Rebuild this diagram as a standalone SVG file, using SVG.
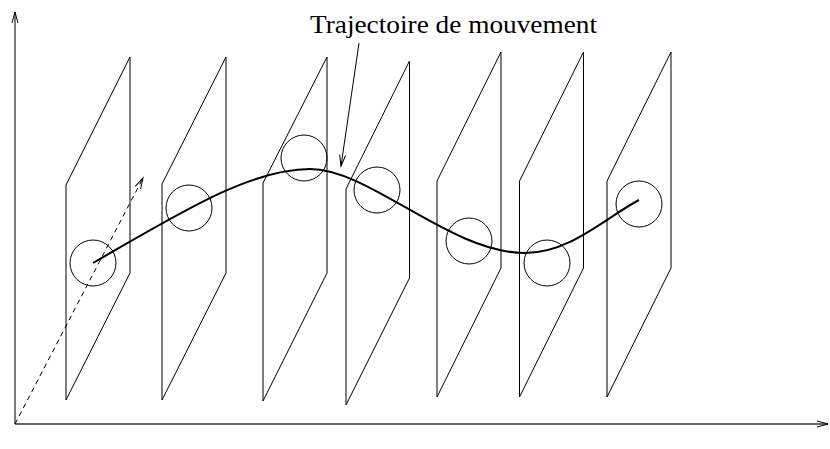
<svg xmlns="http://www.w3.org/2000/svg" width="830" height="449" viewBox="0 0 830 449">
<style>
.plane{fill:none;stroke:#000;stroke-width:1}
.obj{fill:none;stroke:#000;stroke-width:1}
.axis{fill:none;stroke:#333;stroke-width:1.3}
.traj{fill:none;stroke:#000;stroke-width:2}
.dash{fill:none;stroke:#000;stroke-width:1;stroke-dasharray:5,4}
.lbl{font-family:"Liberation Serif","Times New Roman",serif;font-size:26px;fill:#000}
</style>
<defs>
<marker id="arr" markerUnits="userSpaceOnUse" markerWidth="16" markerHeight="12" viewBox="-12 -6 14 12" refX="0" refY="0" orient="auto">
<path d="M-11,-3 L0,0 L-11,3" fill="none" stroke="#000" stroke-width="1"/>
</marker>
</defs>
<rect width="830" height="449" fill="#fff"/>
<g id="planes">
<g id="plane1"><path class="plane" d="M66,400 L66,185 L130,57 L130,273 Z"/></g>
<g id="plane2"><path class="plane" d="M162,400 L162,184 L226,57 L226,273 Z"/></g>
<g id="plane3"><path class="plane" d="M263,401 L263,183 L327,57 L327,273 Z"/></g>
<g id="plane4"><path class="plane" d="M346,405 L346,189 L409.5,61 L409.5,278 Z"/></g>
<g id="plane5"><path class="plane" d="M437,397 L437,181 L501,52 L501,268 Z"/></g>
<g id="plane6"><path class="plane" d="M519.5,397 L519.5,181 L583.5,52 L583.5,268 Z"/></g>
<g id="plane7"><path class="plane" d="M607,397 L607,181 L671,52 L671,268 Z"/></g>
</g>
<g id="objects">
<g id="obj1"><circle class="obj" cx="93" cy="263" r="23"/></g>
<g id="obj2"><circle class="obj" cx="189" cy="208" r="23"/></g>
<g id="obj3"><circle class="obj" cx="304" cy="158" r="23"/></g>
<g id="obj4"><circle class="obj" cx="377" cy="190" r="23"/></g>
<g id="obj5"><circle class="obj" cx="469" cy="241" r="23"/></g>
<g id="obj6"><circle class="obj" cx="547" cy="263" r="23"/></g>
<g id="obj7"><circle class="obj" cx="639" cy="204" r="23"/></g>
</g>
<g id="connectors">
<path class="axis" d="M15,424 L15,12" marker-end="url(#arr)"/>
<path class="axis" d="M15,424 L828,424" marker-end="url(#arr)"/>
<path class="dash" d="M15,424 L143,178" marker-end="url(#arr)"/>
<path class="traj" d="M93,263 C180,213 250,169 310,169 C370,169 450,253 525,253 C570,253 605,218 639,200"/>
<path class="obj" d="M359,43 L341,166" marker-end="url(#arr)"/>
</g>
<g id="label">
<text class="lbl" x="310" y="33" textLength="287" lengthAdjust="spacingAndGlyphs">Trajectoire de mouvement</text>
</g>
</svg>
